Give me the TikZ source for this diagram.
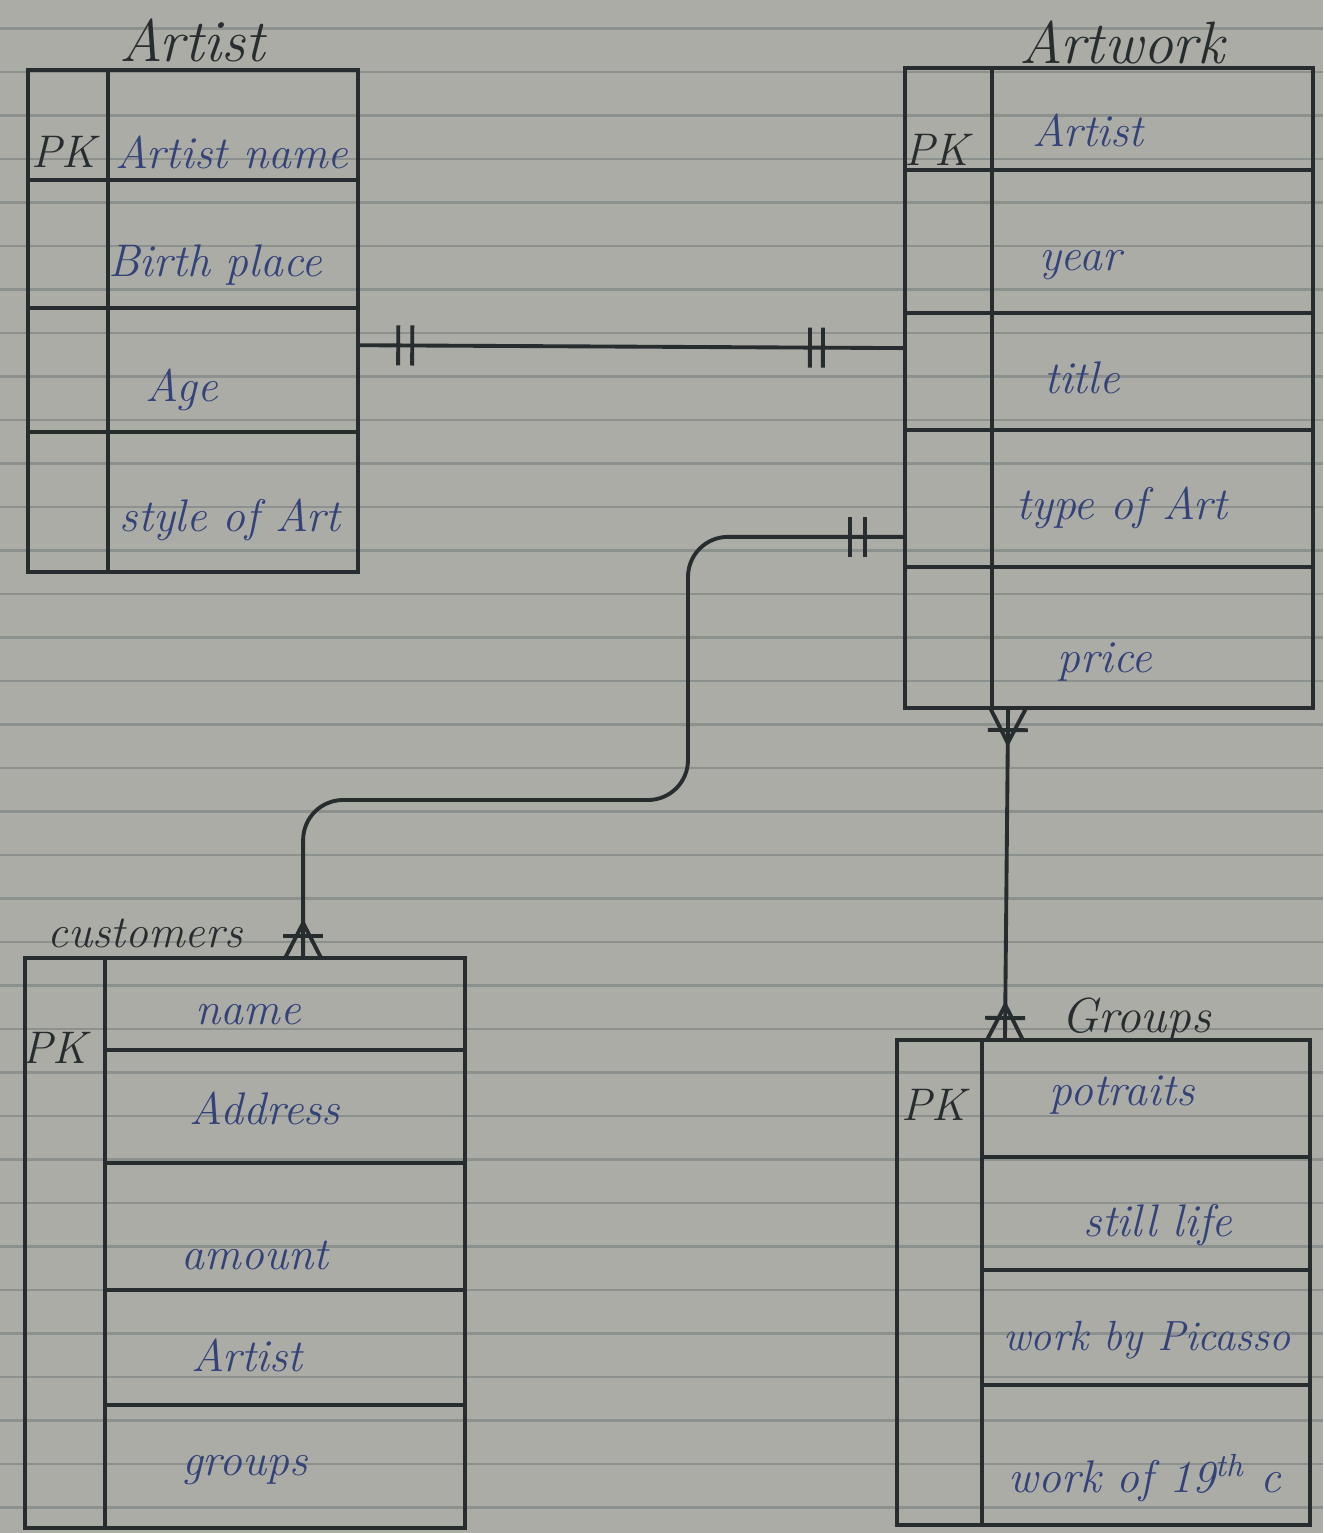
\documentclass[tikz,border=0pt]{standalone}
\usepackage{xcolor}
\usetikzlibrary{positioning,calc,decorations.markings}
\definecolor{paper}{HTML}{ABACA6}
\definecolor{rulec}{HTML}{8C918D}
\definecolor{ink}{HTML}{272C2E}
\definecolor{pen}{HTML}{34427A}

\tikzset{
  cell/.style={draw=ink, line width=1.1pt, anchor=north west, inner sep=0pt, outer sep=0pt},
  attr/.style={text=pen, font=\fontsize{13}{16}\selectfont\itshape},
  pk/.style={text=ink, font=\fontsize{13}{16}\selectfont\itshape},
  title/.style={text=ink, font=\fontsize{17}{20}\selectfont\itshape},
  rel/.style={draw=ink, line width=1.1pt, sharp corners},
  bars/.style 2 args={postaction={decorate, decoration={markings,
    mark=at position #1 with {\draw[rel] (0,-0.2cm) -- (0,0.2cm);},
    mark=at position #2 with {\draw[rel] (0,-0.2cm) -- (0,0.2cm);}}}},
  manystart/.style={postaction={decorate, decoration={markings,
    mark=at position 0 with {\draw[rel] (0,-0.18cm) -- (0.35cm,0) -- (0,0.18cm);
      \draw[rel] (0.22cm,-0.2cm) -- (0.22cm,0.2cm);}}}},
  manyend/.style={postaction={decorate, decoration={markings,
    mark=at position 1 with {\draw[rel] (0,-0.18cm) -- (-0.35cm,0) -- (0,0.18cm);
      \draw[rel] (-0.22cm,-0.2cm) -- (-0.22cm,0.2cm);}}}}
}

\begin{document}
\begin{tikzpicture}[x=0.01cm, y=-0.01cm]
  \fill[paper] (0,0) rectangle (1323,1533);
  \useasboundingbox (0,0) rectangle (1323,1533);
  % ruled paper
  \foreach \y in {28.5,72,...,1530}
    \draw[rulec, line width=0.8pt] (0,\y) -- (1323,\y);

  % Artist
  \node[title] (artist) at (192,40) {Artist};
  \foreach \n/\t/\b in {1/70/180,2/180/308,3/308/432,4/432/572}{
    \node[cell, minimum width=0.8cm, minimum height={(\b-\t)*0.01cm}] (artist-k\n) at (28,\t) {};
    \node[cell, minimum width=2.5cm, minimum height={(\b-\t)*0.01cm}] (artist-a\n) at (artist-k\n.north east) {};
  }
  \foreach \n/\x/\y/\txt in {1/232/152/Artist name,2/215/265/Birth place,3/182/390/Age,4/230/520/style of Art}
    \node[attr] (artist-t\n) at (\x,\y) {\txt};
  \node[pk] (artist-pk) at (64,152) {PK};

  % Artwork
  \node[title] (artwork) at (1122,42) {Artwork};
  \foreach \n/\t/\b in {1/68/170,2/170/313,3/313/430,4/430/567,5/567/708}{
    \node[cell, minimum width=0.87cm, minimum height={(\b-\t)*0.01cm}] (artwork-k\n) at (905,\t) {};
    \node[cell, minimum width=3.21cm, minimum height={(\b-\t)*0.01cm}] (artwork-a\n) at (artwork-k\n.north east) {};
  }
  \foreach \n/\x/\y/\txt in {1/1088/130/Artist,2/1080/265/year,3/1082/378/title,4/1122/508/type of Art,5/1105/662/price}
    \node[attr] (artwork-t\n) at (\x,\y) {\txt};
  \node[pk] (artwork-pk) at (937,150) {PK};

  % Customers
  \node[title, font=\fontsize{13}{16}\selectfont\itshape] (cust) at (145,933) {customers};
  \node[cell, minimum width=0.8cm, minimum height=5.7cm] (cust-key) at (25,958) {};
  \foreach \n/\t/\b in {1/958/1050,2/1050/1163,3/1163/1290,4/1290/1405,5/1405/1528}
    \node[cell, minimum width=3.6cm, minimum height={(\b-\t)*0.01cm}] (cust-a\n) at (105,\t) {};
  \foreach \n/\x/\y/\txt in {1/248/1015/name,2/265/1108/Address,3/255/1255/amount,4/247/1355/Artist,5/245/1470/groups}
    \node[attr] (cust-t\n) at (\x,\y) {\txt};
  \node[pk] (cust-pk) at (55,1048) {PK};

  % Groups
  \node[title, font=\fontsize{14}{17}\selectfont\itshape] (grp) at (1136,1020) {Groups};
  \node[cell, minimum width=0.85cm, minimum height=4.85cm] (grp-key) at (897,1040) {};
  \foreach \n/\t/\b in {1/1040/1157,2/1157/1270,3/1270/1385,4/1385/1525}
    \node[cell, minimum width=3.28cm, minimum height={(\b-\t)*0.01cm}] (grp-a\n) at (982,\t) {};
  \foreach \n/\x/\y/\txt in {1/1122/1095/potraits,2/1158/1225/still life,4/1145/1478/work of 19\textsuperscript{th} c}
    \node[attr] (grp-t\n) at (\x,\y) {\txt};
  \node[attr, font=\fontsize{12}{14}\selectfont\itshape] (grp-t3) at (1147,1340) {work by Picasso};
  \node[pk] (grp-pk) at (934,1105) {PK};

  % relationships
  \draw[rel, bars={0.4cm}{0.54cm}, bars={-0.95cm}{-0.82cm}]
    ($(artist-a3.north east)!0.3!(artist-a3.south east)$) -- ($(artwork-k3.north west)!0.3!(artwork-k3.south west)$);
  \draw[rel, rounded corners=0.4cm, bars={0.4cm}{0.55cm}, manyend]
    ($(artwork-k4.north west)!0.78!(artwork-k4.south west)$) -| (688,800)
    -| ($(cust-a1.north west)!0.55!(cust-a1.north east)$);
  \draw[rel, manystart, manyend]
    ($(artwork-a5.south west)!0.05!(artwork-a5.south east)$) -- ($(grp-a1.north west)!0.07!(grp-a1.north east)$);
\end{tikzpicture}
\end{document}
